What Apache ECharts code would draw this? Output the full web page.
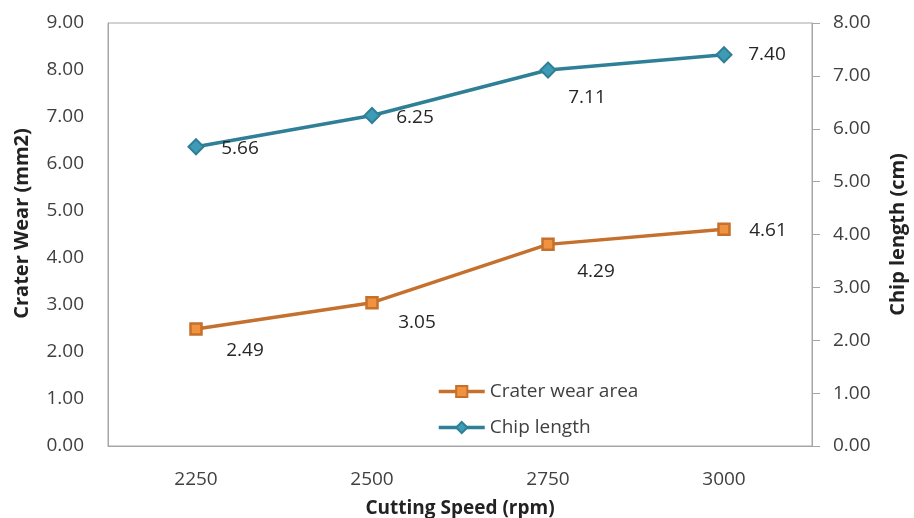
<!DOCTYPE html>
<html>
<head>
<meta charset="utf-8">
<script src="https://cdn.jsdelivr.net/npm/echarts@6/dist/echarts.min.js"></script>
<style>
  html, body { margin: 0; padding: 0; background: #fff; }
  #chart { width: 914px; height: 518px; }
</style>
</head>
<body>
<div id="chart"></div>
<script>
// Cutting speed categories (rpm)
const speeds = ['2250', '2500', '2750', '3000'];
// Crater wear area (mm2), left axis
const craterWear = [2.49, 3.05, 4.29, 4.61];
// Chip length (cm), right axis
const chipLength = [5.66, 6.25, 7.11, 7.40];

const FONT = '"Open Sans", "Liberation Sans", Arial, sans-serif';
const TEXT = '#404040';
const AXIS = '#a6a6a6';

// Label centre offsets from each marker [dx, dy]
const craterOffsets = [[49, 22], [45, 20], [48, 27], [44, 1]];
const chipOffsets = [[44, 2], [43, 2], [39, 28], [43, 0]];

const chart = echarts.init(document.getElementById('chart'));

function withLabels(values, offsets) {
  return values.map((v, i) => ({
    value: v,
    label: { offset: offsets[i] }
  }));
}

chart.setOption({
  animation: false,
  textStyle: { fontFamily: FONT },
  grid: {
    left: 108, right: 102, top: 23, bottom: 72,
    outerBoundsMode: 'none',
    containLabel: false,
    show: true, borderColor: AXIS, borderWidth: 1
  },
  legend: {
    orient: 'vertical',
    left: 432, top: 377,
    itemWidth: 46, itemHeight: 14, itemGap: 17,
    lineStyle: { width: 3.5 },
    textStyle: { fontFamily: FONT, fontSize: 19, color: TEXT },
    data: ['Crater wear area', 'Chip length']
  },
  xAxis: {
    type: 'category',
    data: speeds,
    boundaryGap: true,
    axisLine: { lineStyle: { color: AXIS, width: 1 } },
    axisTick: { show: false },
    axisLabel: { color: TEXT, fontSize: 19, margin: 24, fontFamily: FONT },
    name: 'Cutting Speed (rpm)',
    nameLocation: 'middle',
    nameGap: 53,
    nameTextStyle: { fontWeight: 'bold', fontSize: 19, color: '#222', fontFamily: FONT }
  },
  yAxis: [
    {
      type: 'value', min: 0, max: 9, interval: 1,
      axisLine: { show: true, lineStyle: { color: AXIS } },
      axisTick: { show: false },
      splitLine: { show: false },
      axisLabel: { color: TEXT, fontSize: 19, margin: 24, fontFamily: FONT,
        formatter: v => v.toFixed(2) },
      name: 'Crater Wear (mm2)',
      nameLocation: 'middle', nameRotate: 90, nameGap: 76,
      nameTextStyle: { fontWeight: 'bold', fontSize: 20, color: '#222', fontFamily: FONT,
        padding: [0, 0, 0, 22] }
    },
    {
      type: 'value', min: 0, max: 8, interval: 1, position: 'right',
      axisLine: { show: true, lineStyle: { color: AXIS } },
      axisTick: { show: true, inside: false, length: 8, lineStyle: { color: AXIS } },
      splitLine: { show: false },
      axisLabel: { color: TEXT, fontSize: 19, margin: 21, fontFamily: FONT,
        formatter: v => v.toFixed(2) },
      name: 'Chip length (cm)',
      nameLocation: 'middle', nameRotate: 90, nameGap: 76,
      nameTextStyle: { fontWeight: 'bold', fontSize: 20, color: '#222', fontFamily: FONT }
    }
  ],
  series: [
    {
      name: 'Crater wear area',
      type: 'line',
      yAxisIndex: 0,
      data: withLabels(craterWear, craterOffsets),
      symbol: 'rect', symbolSize: 11,
      lineStyle: { color: '#c5702c', width: 3.5 },
      itemStyle: { color: '#f0923e', borderColor: '#c5702c', borderWidth: 2.5 },
      label: {
        show: true, position: 'inside', color: '#262626', fontSize: 19, fontFamily: FONT,
        formatter: p => p.value.toFixed(2)
      }
    },
    {
      name: 'Chip length',
      type: 'line',
      yAxisIndex: 1,
      data: withLabels(chipLength, chipOffsets),
      symbol: 'diamond', symbolSize: 15,
      lineStyle: { color: '#2f7f96', width: 3.5 },
      itemStyle: { color: '#3d9bb6', borderColor: '#2f7f96', borderWidth: 2 },
      label: {
        show: true, position: 'inside', color: '#262626', fontSize: 19, fontFamily: FONT,
        formatter: p => p.value.toFixed(2)
      }
    }
  ]
});
</script>
</body>
</html>
